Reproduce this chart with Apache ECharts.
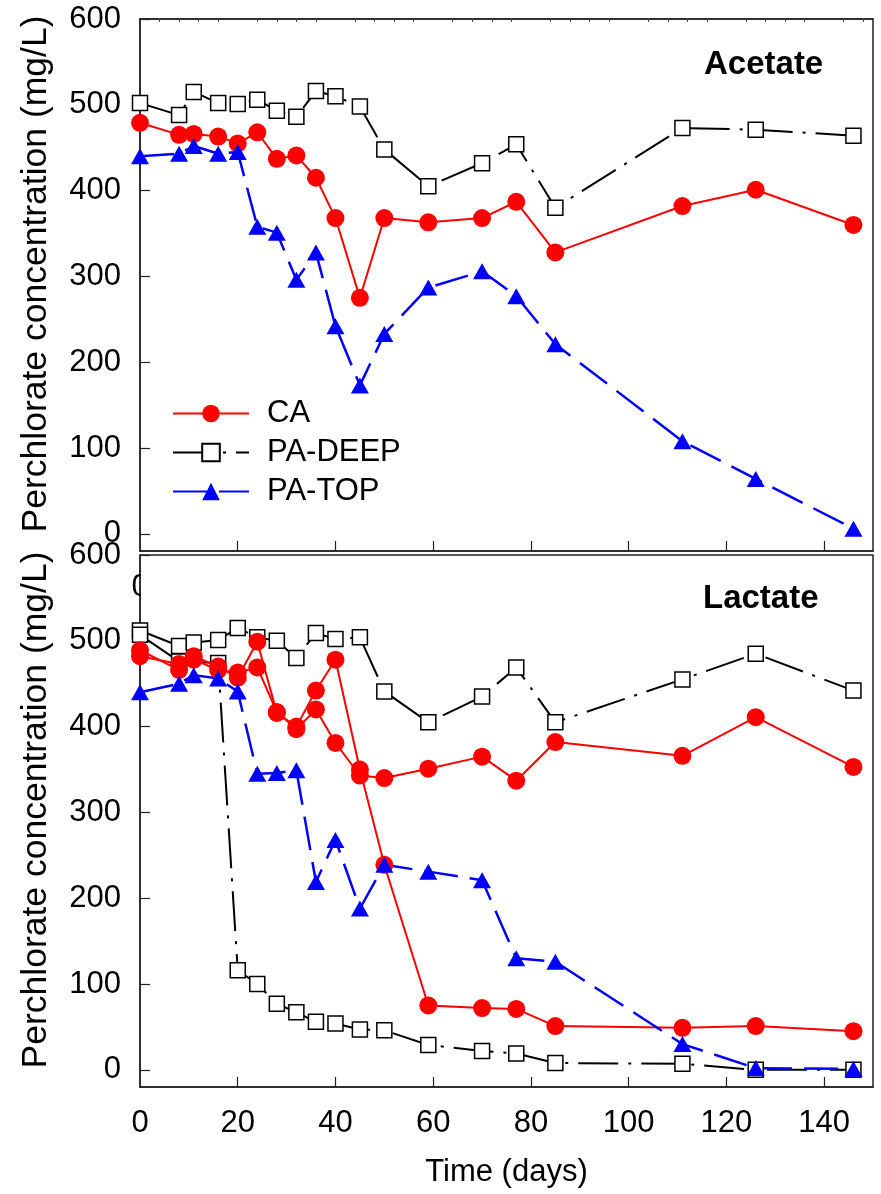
<!DOCTYPE html>
<html>
<head>
<meta charset="utf-8">
<script src="https://cdn.jsdelivr.net/npm/echarts@6/dist/echarts.min.js"></script>
<style>
  html, body { margin: 0; padding: 0; background: #fff; }
  #chart { width: 881px; height: 1194px; }
</style>
</head>
<body>
<div id="chart"></div>
<script>
// sampling days (shared by every series)
const days = [0, 8, 11, 16, 20, 24, 28, 32, 36, 40, 45, 50, 59, 70, 77, 85, 111, 126, 146]

// Acetate panel
const acetateCA = [479, 465, 466, 463, 455, 468, 437, 441, 415, 368, 275, 368, 363, 368, 387, 328, 382, 401, 360]
const acetateDeep = [502, 488, 515, 502, 501, 506, 493, 486, 516, 510, 498, 448, 405, 432, 454, 380, 473, 471, 464]
const acetateTop = [440, 443, 452, 443, 445, 358, 351, 296, 328, 242, 173, 233, 287, 306, 277, 221, 108, 64, 6]

// Lactate panel (two replicates for CA and PA-DEEP)
const lactateCA1 = [489, 466, 478, 466, 463, 469, 417, 397, 420, 381, 343, 340, 351, 365, 337, 382, 366, 411, 353]
const lactateCA2 = [482, 473, 482, 470, 457, 499, 416, 400, 442, 478, 350, 239, 75, 72, 71, 51, 49, 51, 45]
const lactateDeep1 = [512, 494, 498, 501, 515, 504, 500, 480, 509, 502, 504, 441, 405, 435, 469, 405, 455, 485, 442]
const lactateDeep2 = [507, 476, null, 474, 116, 100, 77, 67, 56, 54, 47, 46, 29, 22, 19, 8, 7, 0, 0]
const lactateTop = [440, 450, 460, 456, 441, 345, 346, 349, 219, 268, 188, 239, 231, 221, 130, 126, 30, 2, 1]

const xTicks = [0, 20, 40, 60, 80, 100, 120, 140]
const yTicks = [0, 100, 200, 300, 400, 500, 600]

const FONT = 'Liberation Sans'

function pairs(values) {
    return days.map((d, i) => [d, values[i]])
}

function deepSeries(name, values, x, y) {
    return {
        name: name, type: 'line', xAxisIndex: x, yAxisIndex: y,
        data: pairs(values), connectNulls: true,
        symbol: 'rect', symbolSize: 15,
        lineStyle: { color: '#000', width: 2, type: [40, 10, 3, 10] },
        itemStyle: { color: '#fff', borderColor: '#000', borderWidth: 1.5 }
    }
}

function caSeries(name, values, x, y) {
    return {
        name: name, type: 'line', xAxisIndex: x, yAxisIndex: y,
        data: pairs(values),
        symbol: 'circle', symbolSize: 18,
        lineStyle: { color: '#ff0000', width: 2 },
        itemStyle: { color: '#ff0000' }
    }
}

function topSeries(name, values, x, y) {
    return {
        name: name, type: 'line', xAxisIndex: x, yAxisIndex: y,
        data: pairs(values),
        symbol: 'triangle', symbolSize: [18, 16],
        lineStyle: { color: '#0000ff', width: 2.5, type: [34, 12] },
        itemStyle: { color: '#0000ff' }
    }
}

function yAxisFor(gridIndex) {
    return {
        type: 'value', gridIndex: gridIndex, min: -20, max: 600,
        name: 'Perchlorate concentration (mg/L)',
        nameLocation: 'middle', nameGap: 86,
        nameTextStyle: { fontFamily: FONT, fontSize: 35.5, color: '#000', padding: [0, 0, 0, 22] },
        axisLine: { show: true, onZero: false, lineStyle: { color: '#222', width: 1.5 } },
        axisTick: { show: true, inside: true, length: 10, customValues: yTicks, lineStyle: { color: '#222', width: 1.2 } },
        axisLabel: { fontFamily: FONT, fontSize: 31, color: '#000', margin: 19, customValues: yTicks },
        splitLine: { show: false }
    }
}

var chart = echarts.init(document.getElementById('chart'))
option = {
    animation: false,
    backgroundColor: '#fff',
    textStyle: { fontFamily: FONT },
    grid: [
        { left: 140, top: 19, width: 733, height: 532, show: true, borderColor: '#222', borderWidth: 1.5, backgroundColor: 'transparent' },
        { left: 140, top: 555, width: 733, height: 532, show: true, borderColor: '#222', borderWidth: 1.5, backgroundColor: 'transparent' }
    ],
    title: [
        { text: 'Acetate', left: 704, top: 48, padding: 0, textStyle: { fontFamily: FONT, fontSize: 33, fontWeight: 'bold', color: '#000' } },
        { text: 'Lactate', left: 703, top: 582, padding: 0, textStyle: { fontFamily: FONT, fontSize: 33, fontWeight: 'bold', color: '#000' } }
    ],
    legend: {
        data: ['CA', 'PA-DEEP', 'PA-TOP'],
        orient: 'vertical', left: 172, top: 398, padding: 0,
        itemWidth: 76, itemHeight: 22, itemGap: 8,
        textStyle: { fontFamily: FONT, fontSize: 31, color: '#000', lineHeight: 31, padding: [0, 0, 0, 13] }
    },
    xAxis: [
        {
            type: 'value', gridIndex: 0, min: 0, max: 150,
            axisLine: { show: true, onZero: false, lineStyle: { color: '#222', width: 1.5 } },
            axisTick: { show: true, inside: true, length: 10, customValues: xTicks.slice(1), lineStyle: { color: '#222', width: 1.2 } },
            axisLabel: { fontFamily: FONT, fontSize: 31, color: '#000', margin: 21, customValues: [0] },
            splitLine: { show: false }
        },
        {
            type: 'value', gridIndex: 0, min: 0, max: 150, interval: 20, position: 'top',
            axisLine: { show: true, onZero: false, lineStyle: { color: '#222', width: 1.5 } },
            axisTick: { show: false, inside: true },
            minorTick: { show: true, splitNumber: 5, length: 3, lineStyle: { color: '#444', width: 1 } },
            axisLabel: { show: false },
            splitLine: { show: false }
        },
        {
            type: 'value', gridIndex: 1, min: 0, max: 150,
            name: 'Time (days)', nameLocation: 'middle', nameGap: 70,
            nameTextStyle: { fontFamily: FONT, fontSize: 31, color: '#000' },
            axisLine: { show: true, onZero: false, lineStyle: { color: '#222', width: 1.5 } },
            axisTick: { show: true, inside: true, length: 10, customValues: xTicks.slice(1), lineStyle: { color: '#222', width: 1.2 } },
            axisLabel: { fontFamily: FONT, fontSize: 31, color: '#000', margin: 21, customValues: xTicks },
            splitLine: { show: false }
        }
    ],
    yAxis: [yAxisFor(0), yAxisFor(1)],
    // white patch hiding the top panel's x labels behind the lower panel
    graphic: [
        { type: 'rect', z: 10, shape: { x: 141, y: 566, width: 40, height: 44 }, style: { fill: '#fff' } }
    ],
    series: [
        deepSeries('PA-DEEP', acetateDeep, 0, 0),
        caSeries('CA', acetateCA, 0, 0),
        topSeries('PA-TOP', acetateTop, 0, 0),
        deepSeries('PA-DEEP', lactateDeep1, 2, 1),
        deepSeries('PA-DEEP', lactateDeep2, 2, 1),
        caSeries('CA', lactateCA1, 2, 1),
        caSeries('CA', lactateCA2, 2, 1),
        topSeries('PA-TOP', lactateTop, 2, 1)
    ]
}
chart.setOption(option)
</script>
</body>
</html>
